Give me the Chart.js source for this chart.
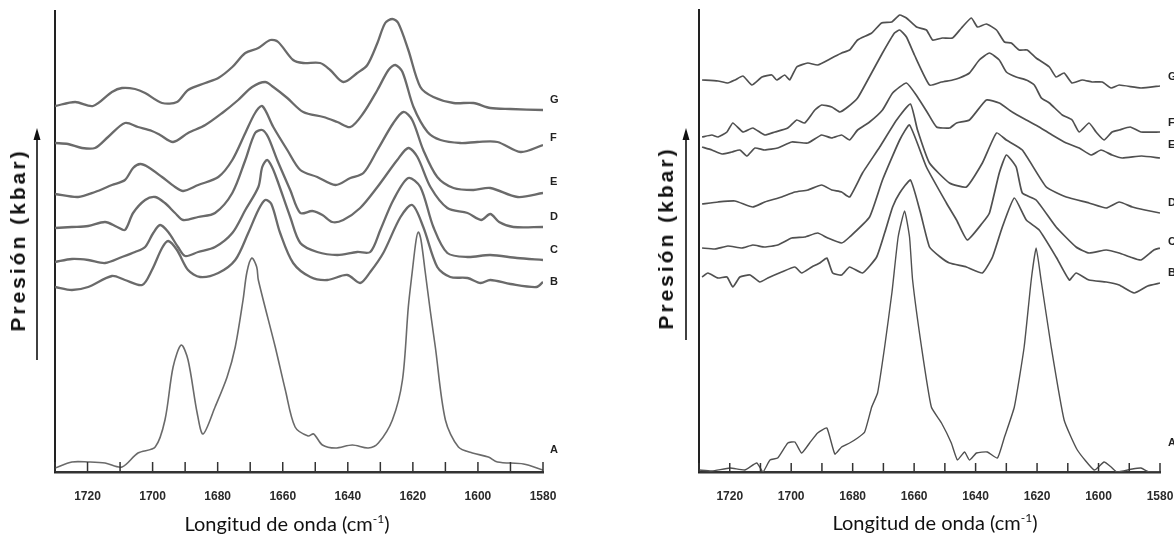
<!DOCTYPE html>
<html>
<head>
<meta charset="utf-8">
<script src="https://cdn.jsdelivr.net/npm/chart.js@4.4.0/dist/chart.umd.min.js"></script>
<style>
  body { margin: 0; width: 1174px; height: 544px; overflow: hidden; background: #fff; position: relative; }
  .panel { position: absolute; top: 0; height: 544px; }
  #izq { left: 0; width: 590px; }
  #der { left: 590px; width: 600px; }
  .ylab { position: absolute; transform: translate(-50%, -50%) rotate(-90deg); font: bold 21px "Liberation Sans", Arial, sans-serif; letter-spacing: 3px; white-space: nowrap; color: #111; }
  .xlab { position: absolute; transform: translate(-50%, -50%); font: 20px Lato, "Open Sans", sans-serif; white-space: nowrap; color: #111; }
  .xlab sup { font-size: 12px; }
  svg { position: absolute; left: 0; top: 0; }
</style>
</head>
<body>
<div class="panel" id="izq"><canvas id="chartIzq"></canvas></div>
<div class="panel" id="der"><canvas id="chartDer"></canvas></div>

<div class="ylab" style="left:18px; top:240px;">Presión (kbar)</div>
<div class="ylab" style="left:666px; top:238px;">Presión (kbar)</div>
<div class="xlab" style="left:287px; top:523px;">Longitud de onda (cm<sup>-1</sup>)</div>
<div class="xlab" style="left:935px; top:522px;">Longitud de onda (cm<sup>-1</sup>)</div>

<svg width="1174" height="544">
  <line x1="37" y1="360" x2="37" y2="136" stroke="#111" stroke-width="1.6"/>
  <polygon points="37,128 33.5,140 40.5,140" fill="#111"/>
  <line x1="686" y1="340" x2="686" y2="136" stroke="#111" stroke-width="1.6"/>
  <polygon points="686,128 682.5,140 689.5,140" fill="#111"/>
</svg>

<script>
// espectros (numero de onda cm-1, intensidad relativa) - panel izquierdo
const curvas = ['A', 'B', 'C', 'D', 'E', 'F', 'G'];

const izqA = [[1730,4],[1724.8,10],[1719.8,10],[1714.6,9],[1709.4,5],[1704.5,19],[1699.2,25],[1696.2,52],[1693.7,105],[1691.2,127],[1689.1,112],[1686.3,59],[1684.5,38],[1680.8,65],[1677.1,95],[1674.6,125],[1672.2,172],[1671,200],[1669.5,214],[1668,205],[1667.5,192],[1662.3,125],[1659.2,82],[1656.2,45],[1652.2,36],[1650.5,38],[1647.8,27],[1643.8,24],[1638.6,27],[1633.7,24],[1630.6,29],[1626.3,52],[1623.2,92],[1621.4,165],[1620.2,200],[1619,232],[1618.3,240],[1617.5,232],[1616.2,200],[1614.6,160],[1613.1,125],[1610,52],[1606,25],[1601.7,19],[1596.8,15],[1594,10],[1586,8],[1580,2]];
const izqB = [[1730,185],[1724.8,182],[1719.8,185],[1712.5,196],[1708.5,192],[1703.2,187],[1700.2,202],[1697.1,224],[1695.2,231],[1692.5,222],[1689.1,202],[1685.4,195],[1679.8,199],[1674.6,212],[1670.6,239],[1667.5,262],[1665.4,272],[1663.5,268],[1660.8,239],[1656.8,209],[1651.5,195],[1646.3,192],[1640.2,197],[1636.2,189],[1633.1,200],[1629.1,219],[1623.8,255],[1620.2,267],[1616.8,245],[1612.5,205],[1608.5,195],[1603.2,194],[1599.2,189],[1596.2,192],[1590,188],[1582,185],[1580,190]];
const izqC = [[1730,210],[1724.8,213],[1719.8,212],[1714.6,209],[1709.4,215],[1705.4,220],[1702.3,225],[1699.8,239],[1697.7,247],[1695.2,240],[1692.2,225],[1690,216],[1686,220],[1680.8,225],[1675.5,239],[1671.5,262],[1667.5,285],[1666.3,305],[1664.8,312],[1663.3,305],[1661.7,292],[1657.7,255],[1654.6,229],[1649.4,220],[1643.2,217],[1637.1,220],[1633.1,220],[1630,242],[1626,272],[1621.4,294],[1617.7,285],[1613.7,245],[1609.4,219],[1603.2,215],[1596.2,217],[1588,214],[1580,212]];
const izqD = [[1730,244],[1724.8,245],[1719.8,246],[1714.6,250],[1710.9,245],[1708.5,242],[1706,259],[1702.3,272],[1699.2,275],[1696.2,269],[1693.1,259],[1690.6,252],[1686,255],[1680.8,259],[1675.5,279],[1671.5,312],[1668.5,339],[1666.3,342],[1664.5,335],[1661.7,312],[1657.7,282],[1654.6,259],[1650.9,261],[1647.8,257],[1644.8,250],[1641.4,252],[1636.2,264],[1630.9,285],[1624.8,312],[1621.4,324],[1618.6,315],[1614.6,285],[1609.4,264],[1603.2,259],[1599,252],[1596.2,258],[1593.5,250],[1589.1,245],[1580,245]];
const izqE = [[1730,278],[1722.9,275],[1717.7,280],[1712.5,287],[1708.5,292],[1706,304],[1703.8,308],[1701.4,305],[1697.1,295],[1693.1,285],[1690.6,281],[1686,287],[1679.8,295],[1675.5,312],[1671.5,339],[1668.5,359],[1666.3,366],[1662.9,345],[1658.6,322],[1654.6,302],[1649.4,295],[1643.8,287],[1639.2,294],[1635.2,299],[1630.9,322],[1626,349],[1622.9,360],[1620.2,352],[1616.8,322],[1612.5,295],[1607.5,284],[1601.4,282],[1596.2,284],[1587.8,275],[1580,279]];
const izqF = [[1730,329],[1726,328],[1721.7,324],[1717.7,324],[1713.7,335],[1708.5,349],[1704.5,345],[1700.2,341],[1697.7,337],[1693.7,330],[1689.1,339],[1683.8,347],[1678.6,359],[1673.7,372],[1669.4,385],[1665.4,390],[1662.9,385],[1658.6,374],[1653.7,360],[1647.5,355],[1643.2,350],[1639.2,345],[1635.2,359],[1630.9,382],[1627.5,402],[1625.4,407],[1623.2,400],[1619.8,365],[1615.5,340],[1611.5,332],[1605.4,329],[1600.2,330],[1594,330],[1586.9,320],[1580,327]];
const izqG = [[1730,366],[1723.8,370],[1718.3,366],[1712.5,380],[1709.4,384],[1705.4,383],[1702.3,379],[1697.1,369],[1692.5,370],[1689.1,382],[1683.8,389],[1679.8,394],[1675.5,405],[1671.5,419],[1667.5,424],[1663.8,432],[1661.4,430],[1656.8,412],[1653.7,409],[1648.5,409],[1645.4,402],[1641.4,390],[1637.1,399],[1634,407],[1630.9,429],[1628.5,449],[1626.3,453],[1624.5,449],[1621.4,422],[1617.7,385],[1613.7,375],[1607.5,369],[1601.4,369],[1596.2,364],[1590,363],[1580,362]];

// panel derecho
const derA = [[1730,2],[1725.8,1],[1719.9,4],[1715.1,2],[1711.2,9],[1709.2,0],[1706.9,12],[1704.4,14],[1701.1,29],[1698.8,30],[1696.6,19],[1694,29],[1691.4,39],[1688.4,44],[1685.8,18],[1683.6,25],[1681,29],[1678.4,34],[1676.1,40],[1673.8,65],[1671.9,79],[1669.6,125],[1667.2,180],[1665.2,235],[1663.1,261],[1661.5,235],[1660.5,192],[1657.6,125],[1654.4,65],[1651.1,49],[1647.9,29],[1645.9,12],[1643.6,20],[1642,12],[1639.7,19],[1636.2,20],[1632.9,14],[1630.6,35],[1627.4,65],[1624.2,125],[1621.9,192],[1620.3,224],[1618.7,192],[1615.4,125],[1611.2,52],[1606.9,22],[1601.4,2],[1598.2,10],[1595.9,5],[1594,0],[1589,3],[1586.2,4],[1583.6,0],[1580,0]];
const derB = [[1729,195],[1727.1,199],[1723.8,194],[1720.9,195],[1719,185],[1716.7,195],[1713.4,197],[1710.2,190],[1707.6,194],[1703.1,200],[1698.8,205],[1696.6,199],[1693.3,205],[1690.7,209],[1688.4,214],[1686.5,199],[1683.6,197],[1681,205],[1676.8,199],[1672.2,215],[1669.5,240],[1667,265],[1664.7,279],[1661.2,292],[1658,260],[1655,225],[1651.5,215],[1648.5,209],[1643,205],[1637.8,199],[1634.5,215],[1631.3,245],[1627.4,274],[1623.5,252],[1619.3,242],[1613.8,215],[1609.5,192],[1607.3,199],[1603.1,192],[1597.5,190],[1593.3,187],[1588.4,179],[1584,186],[1580,189]];
const derC = [[1729,224],[1724.8,223],[1720.6,226],[1716,224],[1712.5,227],[1708.6,225],[1704.4,227],[1699.8,234],[1695.6,235],[1691.4,239],[1688.1,234],[1683.6,229],[1681,235],[1674.5,255],[1670.3,292],[1664.7,332],[1661.5,347],[1656,305],[1649.5,269],[1646.2,252],[1642.7,232],[1637.8,249],[1635.5,259],[1632.3,299],[1630,317],[1626.8,305],[1624.8,279],[1620.3,272],[1613.8,245],[1607.3,225],[1603.1,219],[1597.5,222],[1593.3,219],[1589.7,215],[1586.2,212],[1582,222],[1580,224]];
const derD = [[1729,268],[1723.8,270],[1718.3,271],[1712.5,265],[1708.6,270],[1703.1,275],[1698.8,280],[1694.6,282],[1690.1,287],[1686.8,282],[1683.6,280],[1681,275],[1676.8,299],[1671.2,325],[1665.7,352],[1661.2,368],[1658.9,342],[1655,309],[1648.5,289],[1643,285],[1637.8,309],[1633.2,339],[1630,332],[1624.8,322],[1617,285],[1610.5,275],[1603.1,269],[1597.5,264],[1593.3,270],[1589,265],[1584.9,262],[1580,259]];
const derE = [[1729,325],[1725.8,322],[1722.5,318],[1719.3,320],[1716.7,322],[1714.4,316],[1711.8,324],[1708.6,322],[1704.4,324],[1699.8,330],[1694.6,329],[1690.1,337],[1686.8,334],[1683.6,337],[1681,332],[1678.4,342],[1674.5,350],[1670.3,362],[1667,379],[1662.5,389],[1658.9,375],[1655.6,359],[1652.7,345],[1648.5,344],[1646.2,349],[1642,352],[1636.5,372],[1632.3,369],[1628.1,360],[1623.5,352],[1619.3,345],[1615.1,337],[1610.5,329],[1606.3,324],[1602.4,317],[1599.2,322],[1595.6,317],[1592.3,314],[1586,316],[1580,314]];
const derF = [[1729,335],[1725.8,337],[1723.8,335],[1720.9,340],[1719,349],[1715.7,340],[1712.5,344],[1708.6,337],[1705.3,340],[1701.1,344],[1698.2,352],[1695.6,349],[1692.3,362],[1690.1,367],[1686.8,365],[1684.2,360],[1681.6,365],[1678.4,374],[1675.1,392],[1670.3,419],[1666.4,439],[1664.7,442],[1662.5,435],[1659.9,417],[1655,387],[1651.1,390],[1647.5,392],[1645.3,394],[1642,399],[1638.8,412],[1635.5,419],[1632.3,412],[1630,400],[1626.8,395],[1623.5,392],[1620.9,387],[1618.6,374],[1616,369],[1611.8,357],[1608.6,352],[1606.3,340],[1603.1,349],[1600.8,340],[1598.2,332],[1595.6,340],[1593.3,342],[1589.7,345],[1586.2,340],[1580,340]];
const derG = [[1729,392],[1723.8,391],[1720.6,389],[1718.3,392],[1715.7,396],[1712.8,387],[1709.5,395],[1706.3,397],[1704.7,392],[1702.1,397],[1700.5,392],[1698.2,405],[1694.6,409],[1691.4,407],[1686.8,414],[1683.6,419],[1681,422],[1678.4,432],[1673.8,439],[1670.6,449],[1667.3,450],[1664.7,457],[1662.5,454],[1659.2,445],[1656,442],[1654,432],[1650.8,434],[1647.5,434],[1644.6,444],[1641.4,454],[1639.4,445],[1636.5,448],[1633.2,442],[1630.6,430],[1628.4,429],[1625.8,422],[1623.2,422],[1620.3,414],[1616,405],[1613.8,395],[1611.2,399],[1608.6,389],[1605.3,392],[1602.1,390],[1598.8,390],[1595.9,384],[1593.3,387],[1586.2,384],[1580,386]];

// marcas hacia dentro del eje x y letras al final de cada curva
const marcas = {
    id: 'marcas',
    afterDraw(chart, args, opts) {
        const { ctx, chartArea } = chart;
        const x = chart.scales.x;
        const y = chart.scales.y;
        ctx.save();
        ctx.strokeStyle = opts.color;
        ctx.lineWidth = 1.5;
        x.ticks.forEach(t => {
            const px = x.getPixelForValue(t.value);
            ctx.beginPath();
            ctx.moveTo(px, chartArea.bottom);
            ctx.lineTo(px, chartArea.bottom - opts.largo);
            ctx.stroke();
        });
        ctx.fillStyle = '#222';
        ctx.font = 'bold 11px "Liberation Sans", Arial, sans-serif';
        ctx.textBaseline = 'middle';
        chart.data.datasets.forEach((ds, i) => {
            const ult = ds.data[ds.data.length - 1];
            ctx.fillText(ds.label, chartArea.right + opts.sep, y.getPixelForValue(ult[1]) - opts.subir[i]);
        });
        ctx.restore();
    }
};

function crearPanel(id, series, cfg) {
    const ctx = document.getElementById(id).getContext('2d');
    return new Chart(ctx, {
        type: 'line',
        data: {
            datasets: series.map((s, i) => ({
                label: curvas[i],
                data: s,
                borderColor: cfg.color,
                borderWidth: i === 0 ? cfg.anchoA : cfg.ancho,
                pointRadius: 0,
                tension: cfg.tension,
                borderJoinStyle: 'round',
                fill: false
            }))
        },
        options: {
            responsive: false,
            animation: false,
            layout: { padding: { top: cfg.arriba, right: cfg.derecha, left: 0, bottom: 0 } },
            plugins: {
                legend: { display: false },
                tooltip: { enabled: false },
                marcas: { color: '#333', largo: cfg.largo, sep: cfg.sep, subir: cfg.subir }
            },
            scales: {
                x: {
                    type: 'linear',
                    reverse: true,
                    min: 1580,
                    max: 1730,
                    afterFit: s => { s.height = 72; },
                    grid: { display: false },
                    border: { display: true, color: '#333', width: 2.5 },
                    ticks: {
                        stepSize: 10,
                        autoSkip: false,
                        maxRotation: 0,
                        padding: 9,
                        color: '#2a2a2a',
                        font: { family: '"Liberation Sans Narrow", "Liberation Sans", Arial, sans-serif', size: 12, weight: 'bold' },
                        callback: v => (v % 20 === 0 ? v : '')
                    }
                },
                y: {
                    min: 0,
                    max: cfg.ymax,
                    afterFit: s => { s.width = cfg.izquierda; },
                    grid: { display: false },
                    border: { display: true, color: '#222', width: 2 },
                    ticks: { display: false }
                }
            }
        },
        plugins: [marcas]
    });
}

function medir(id, w) {
    const c = document.getElementById(id);
    c.width = w; c.height = 544;
    c.style.width = w + 'px'; c.style.height = '544px';
}
medir('chartIzq', 590);
medir('chartDer', 600);

crearPanel('chartIzq', [izqA, izqB, izqC, izqD, izqE, izqF, izqG], {
    color: '#6a6a6a', ancho: 2.3, anchoA: 1.6, tension: 0.3,
    arriba: 11, derecha: 47, izquierda: 55, ymax: 461,
    largo: 10, sep: 7, subir: [20, 0, 10, 10, 11, 7, 10]
});
crearPanel('chartDer', [derA, derB, derC, derD, derE, derF, derG], {
    color: '#505050', ancho: 1.7, anchoA: 1.4, tension: 0.15,
    arriba: 10, derecha: 30, izquierda: 109, ymax: 462,
    largo: 9, sep: 8, subir: [29, 10, 6, 10, 13, 9, 9]
});
</script>
</body>
</html>
